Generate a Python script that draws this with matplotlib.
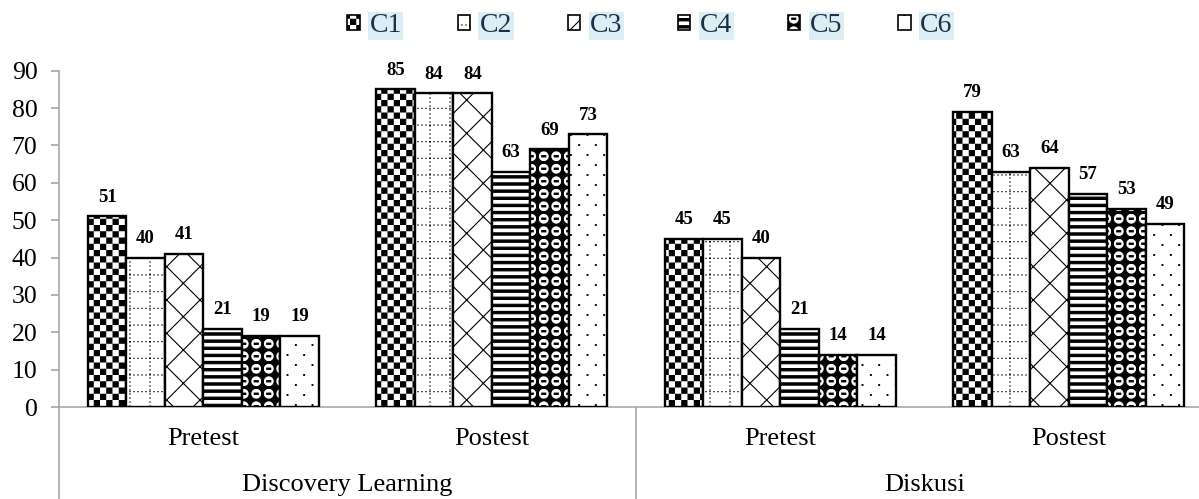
import numpy as np
import matplotlib
matplotlib.use('Agg')
import matplotlib.pyplot as plt
import matplotlib.hatch as mhatch
from matplotlib.path import Path

# ---------------- data ----------------
groups = ['Discovery Learning', 'Diskusi']
phases = ['Pretest', 'Postest', 'Pretest', 'Postest']
series_names = ['C1', 'C2', 'C3', 'C4', 'C5', 'C6']
C1 = [51, 85, 45, 79]
C2 = [40, 84, 45, 63]
C3 = [41, 84, 40, 64]
C4 = [21, 63, 21, 57]
C5 = [19, 69, 14, 53]
C6 = [19, 73, 14, 49]
series_values = [C1, C2, C3, C4, C5, C6]
y_ticks = [0, 10, 20, 30, 40, 50, 60, 70, 80, 90]

# ---------------- custom hatch patterns ----------------
HATCH_LW = 0.8
plt.rcParams['hatch.linewidth'] = HATCH_LW
plt.rcParams['hatch.color'] = 'black'
S = HATCH_LW / 144.0  # half stroke width in hatch-tile units

MOVE, LINE, CLOSE = Path.MOVETO, Path.LINETO, Path.CLOSEPOLY


def _rect(x0, y0, x1, y1):
    return ([(x0, y0), (x1, y0), (x1, y1), (x0, y1), (x0, y0)],
            [MOVE, LINE, LINE, LINE, CLOSE])


def _circle(cx, cy, r, n=16, cw=False):
    ang = np.linspace(0, 2 * np.pi, n, endpoint=False)
    if cw:
        ang = ang[::-1]
    pts = [(cx + r * np.cos(a), cy + r * np.sin(a)) for a in ang]
    pts.append(pts[0])
    return pts, [MOVE] + [LINE] * (n - 1) + [CLOSE]


def _seg(x0, y0, x1, y1):
    return [(x0, y0), (x1, y1)], [MOVE, LINE]


class _ShapeHatch(mhatch.HatchPatternBase):
    char = None

    def __init__(self, hatch, density):
        self._v, self._c = [], []
        if hatch and self.char in hatch:
            for v, c in self.build():
                self._v += v
                self._c += c
        self.num_vertices = len(self._c)

    def set_vertices_and_codes(self, vertices, codes):
        vertices[:] = np.asarray(self._v, float).reshape(-1, 2)
        codes[:] = self._c


class CheckerHatch(_ShapeHatch):
    char = 'k'

    def build(self):
        n = 16
        c = 1.0 / n
        for i in range(n):
            for j in range(n):
                if (i + j) % 2 == 0:
                    yield _rect(i * c + S, j * c + S, (i + 1) * c - S, (j + 1) * c - S)


class DottedGridHatch(_ShapeHatch):
    char = 'g'

    def build(self):
        nd = 25
        for j in range(6):
            y = (j + 0.5) / 6
            for k in range(nd):
                x = (k + 0.5) / nd
                yield _seg(x - 0.002, y, x + 0.002, y)
        for i in range(5):
            x = (i + 0.5) / 5
            for k in range(nd):
                y = (k + 0.5) / nd
                yield _seg(x, y - 0.002, x, y + 0.002)


class StripeHatch(_ShapeHatch):
    char = 'h'

    def build(self):
        n = 14
        p = 1.0 / n
        for j in range(n):
            yield _rect(0.0, j * p + S, 1.0, j * p + 0.48 * p - S)


class SphereHatch(_ShapeHatch):
    char = 's'

    def build(self):
        n = 8
        c = 1.0 / n
        for i in range(n):
            for j in range(n):
                cx, cy = (i + 0.5) * c, (j + 0.5) * c
                yield _rect(i * c, j * c, (i + 1) * c, (j + 1) * c)
                yield _circle(cx, cy, 0.40 * c + S, cw=True)
                yield _rect(cx - 0.16 * c, cy - 0.05 * c, cx + 0.16 * c, cy + 0.05 * c)


class DotHatch(_ShapeHatch):
    char = 'd'

    def build(self):
        rows, cols = 10, 6
        for j in range(rows):
            y = (j + 0.5) / rows
            off = 0.5 if j % 2 else 0.0
            for i in range(cols):
                x = (i + 0.25 + off) / cols
                yield _rect(x - 0.004, y - 0.004, x + 0.004, y + 0.004)


mhatch._hatch_types.extend([CheckerHatch, DottedGridHatch, StripeHatch,
                            SphereHatch, DotHatch])
mhatch._validate_hatch_pattern = lambda h: None

series_hatches = ['k', 'g', 'x', 'h', 's', 'd']

# ---------------- figure ----------------
plt.rcParams['font.family'] = ['Liberation Serif', 'DejaVu Serif']
W, H = 1199, 499
fig = plt.figure(figsize=(W / 100, H / 100), dpi=100)

ax_left, ax_right = 59, 1199
y0_px, y90_px = 407, 70.7
ax = fig.add_axes([ax_left / W, (H - y0_px) / H, (ax_right - ax_left) / W,
                   (y0_px - y90_px) / H])

cat_w_px = 288.5
x_max = -0.5 + (ax_right - ax_left) / cat_w_px
ax.set_xlim(-0.5, x_max)
ax.set_ylim(0, 90)

x = np.arange(len(phases))
n = len(series_names)
bw = 0.8 / n
containers = []
for i, (name, vals, hat) in enumerate(zip(series_names, series_values, series_hatches)):
    bars = ax.bar(x + (i - (n - 1) / 2) * bw, vals, bw, color='white',
                  edgecolor='black', linewidth=1.7, hatch=hat, label=name, zorder=3)
    containers.append(bars)
    for rect, v in zip(bars, vals):
        ax.annotate(f'{v}', (rect.get_x() + rect.get_width() / 2, v),
                    xytext=(0, 10.5), textcoords='offset points',
                    ha='center', va='baseline', fontsize=13.5, fontweight='bold')

gray = '#a0a0a0'
for side in ['top', 'right']:
    ax.spines[side].set_visible(False)
for side in ['left', 'bottom']:
    ax.spines[side].set_color(gray)
    ax.spines[side].set_linewidth(1.1)

ax.set_yticks(y_ticks)
ax.tick_params(axis='y', direction='out', length=5.5, width=1.1, color=gray,
               labelsize=18.5, pad=10)
ax.set_xticks([])

# multi-level category axis
xt = ax.get_xaxis_transform()
axes_h_px = y0_px - y90_px
for xi, ph in zip(x, phases):
    ax.text(xi, -(439 - y0_px) / axes_h_px, ph, transform=xt, ha='center',
            va='center', fontsize=19)
for gi, g in enumerate(groups):
    ax.text(gi * 2 + 0.5, -(485 - y0_px) / axes_h_px, g, transform=xt,
            ha='center', va='center', fontsize=19)
for sx in [-0.5, 1.5, 3.5]:
    ax.plot([sx, sx], [0, -(H - y0_px) / axes_h_px - 0.01], transform=xt,
            color=gray, lw=1.1, clip_on=False, solid_capstyle='butt')

leg = fig.legend(handles=containers, labels=series_names, loc='center',
                 bbox_to_anchor=(650 / W, 1 - 26 / H), ncol=6, frameon=False,
                 fontsize=20, handlelength=0.45, handleheight=0.45,
                 handletextpad=0.35, columnspacing=2.0)
for t in leg.get_texts():
    t.set_color('#1f2f4a')
    t.set_bbox(dict(facecolor='#dbeef3', edgecolor='none', pad=1.0))
for hnd in leg.legend_handles:
    hnd.set_linewidth(1.2)

fig.savefig('out.png', dpi=100)
